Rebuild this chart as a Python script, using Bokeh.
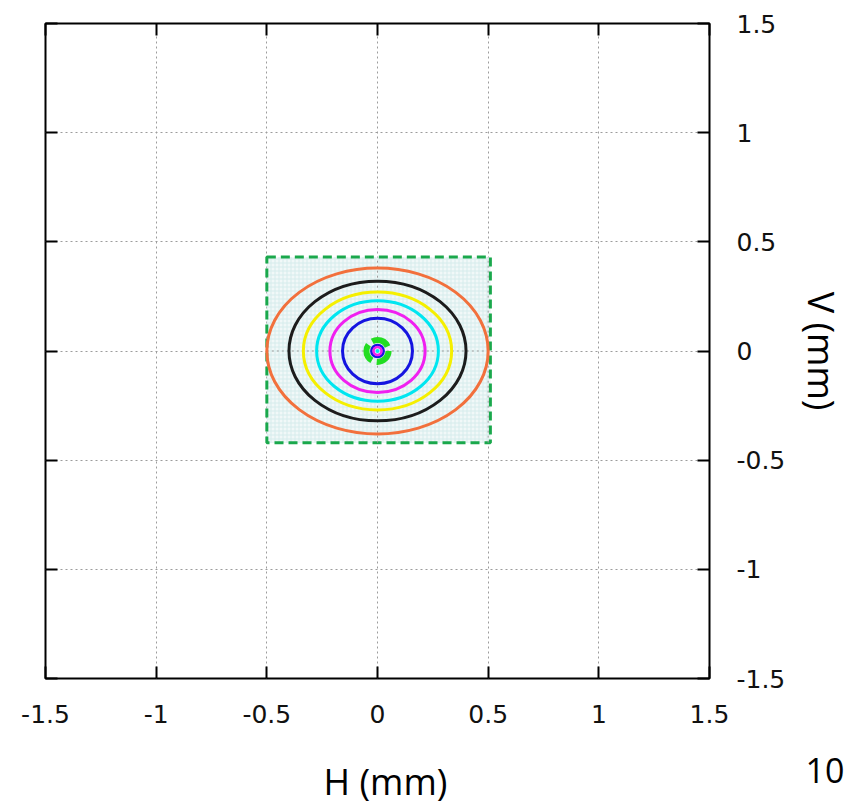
from bokeh.plotting import figure
from bokeh.models import LinearAxis, Grid, FixedTicker, ColumnDataSource, Label
from bokeh.embed import file_html
from bokeh.resources import INLINE

# ---- data ----
tick_values = [-1.5, -1, -0.5, 0, 0.5, 1, 1.5]
tick_labels = ["-1.5", "-1", "-0.5", "0", "0.5", "1", "1.5"]
grid_values = [-1, -0.5, 0, 0.5, 1]

# contour ellipses (semi-axes in mm)
contour_h_semi = [0.50, 0.40, 0.335, 0.275, 0.215, 0.158]
contour_v_semi = [0.38, 0.32, 0.27, 0.23, 0.19, 0.15]
contour_colors = ["#f2703c", "#1c1c1c", "#f5ef00", "#00e6f0", "#f020f0", "#1515e0"]

# small central contours
core_h_semi = [0.028, 0.018]
core_v_semi = [0.028, 0.018]
core_colors = ["#1515e0", "#f020f0"]
green_ring_semi = 0.05
center_dot_semi = 0.009

# dashed window
win_left, win_right, win_bottom, win_top = -0.5, 0.51, -0.42, 0.43

p = figure(width=849, height=805, x_range=(-1.5, 1.5), y_range=(-1.5, 1.5),
           x_axis_type=None, y_axis_type=None,
           output_backend="svg", toolbar_location=None,
           min_border_left=45, min_border_top=23, min_border_right=139, min_border_bottom=127)
p.background_fill_color = "white"
p.border_fill_color = "white"
p.outline_line_color = "black"
p.outline_line_width = 2

overrides = {v: l for v, l in zip(tick_values, tick_labels)}
blank = {v: "" for v in tick_values}

def style_axis(ax, show_labels):
    ax.axis_line_color = None
    ax.major_tick_in = 12
    ax.major_tick_out = 0
    ax.major_tick_line_width = 2
    ax.major_tick_line_color = "black"
    ax.minor_tick_line_color = None
    if show_labels:
        ax.major_label_overrides = overrides
        ax.major_label_text_font = "DejaVu Sans"
        ax.major_label_text_font_size = "25px"
        ax.major_label_text_color = "#111111"
    else:
        ax.major_label_overrides = blank
        ax.major_label_text_font_size = "0px"
        ax.major_label_standoff = 0

xb = LinearAxis(ticker=FixedTicker(ticks=tick_values))
style_axis(xb, True)
xb.major_label_standoff = 26
p.add_layout(xb, "below")

yr = LinearAxis(ticker=FixedTicker(ticks=tick_values))
style_axis(yr, True)
yr.major_label_standoff = 27
yr.axis_label = "V (mm)"
yr.axis_label_text_font = "Open Sans"
yr.axis_label_text_font_size = "36px"
yr.axis_label_text_font_style = "normal"
yr.axis_label_text_color = "black"
yr.axis_label_standoff = 9
p.add_layout(yr, "right")

xa = LinearAxis(ticker=FixedTicker(ticks=tick_values))
style_axis(xa, False)
p.add_layout(xa, "above")
yl = LinearAxis(ticker=FixedTicker(ticks=tick_values))
style_axis(yl, False)
p.add_layout(yl, "left")

for dim in (0, 1):
    g = Grid(dimension=dim, ticker=FixedTicker(ticks=grid_values),
             grid_line_color="#9c9c9c", grid_line_dash="2 3", grid_line_width=1)
    p.add_layout(g)

# dashed window with light mesh
p.quad(left=[win_left], right=[win_right], bottom=[win_bottom], top=[win_top],
       fill_color="#f1f8f8", hatch_pattern="cross", hatch_color="#d6ecec",
       hatch_scale=4, hatch_weight=1,
       line_color="#1aa84c", line_width=3, line_dash="9 5")

# gridlines over the mesh (dotted)
for v in grid_values:
    if win_left < v < win_right:
        p.segment(x0=[v], y0=[win_bottom], x1=[v], y1=[win_top], line_color="#9c9c9c",
                  line_dash="2 3", line_width=1)
    if win_bottom < v < win_top:
        p.segment(x0=[win_left], y0=[v], x1=[win_right], y1=[v], line_color="#9c9c9c",
                  line_dash="2 3", line_width=1)

src = ColumnDataSource(dict(
    x=[0] * len(contour_h_semi), y=[0] * len(contour_h_semi),
    w=[2 * a for a in contour_h_semi], h=[2 * b for b in contour_v_semi],
    c=contour_colors))
p.ellipse(x="x", y="y", width="w", height="h", fill_color=None,
          line_color="c", line_width=3, source=src)

# green broken ring
p.ellipse(x=[0], y=[0], width=[2 * green_ring_semi], height=[2 * green_ring_semi],
          fill_color=None, line_color="#22dd22", line_width=6, line_dash="18 5")

src2 = ColumnDataSource(dict(
    x=[0] * len(core_h_semi), y=[0] * len(core_h_semi),
    w=[2 * a for a in core_h_semi], h=[2 * b for b in core_v_semi], c=core_colors))
p.ellipse(x="x", y="y", width="w", height="h", fill_color=None,
          line_color="c", line_width=2.5, source=src2)
p.ellipse(x=[0], y=[0], width=[2 * center_dot_semi], height=[2 * center_dot_semi],
          fill_color="#00e6f0", line_color=None)

# texts below the frame (side-panel labels, not clipped to the frame)
p.add_layout(Label(x=340, y=-7, x_units="screen", y_units="screen", text="H (mm)",
                   text_font="Open Sans", text_font_size="36px", text_align="center",
                   text_baseline="middle", text_color="black"), "below")
p.add_layout(Label(x=760, y=29, x_units="screen", y_units="screen", text="10",
                   text_font="Open Sans", text_font_size="34px",
                   text_baseline="middle", text_color="black"), "below")

open("out.html", "w").write(file_html(p, INLINE))
